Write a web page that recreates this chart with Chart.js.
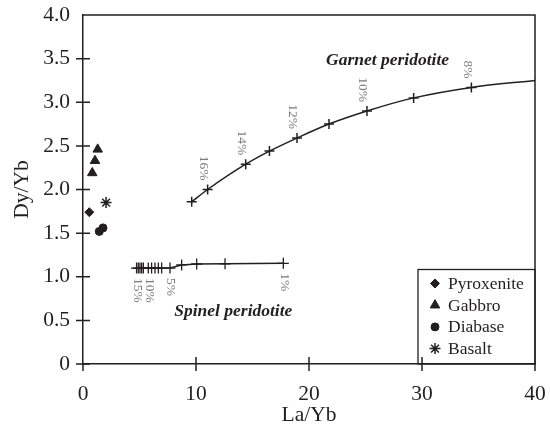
<!DOCTYPE html>
<html><head><meta charset="utf-8">
<script src="https://cdn.jsdelivr.net/npm/chart.js@4.4.1/dist/chart.umd.min.js"></script>
<style>html,body{margin:0;padding:0;background:#fff;overflow:hidden;}</style>
</head><body>
<canvas id="c" width="550" height="428"></canvas>
<script>
// ---- data ----
const xTickValues = [0, 10, 20, 30, 40];
const yTickValues = [0, 0.5, 1.0, 1.5, 2.0, 2.5, 3.0, 3.5, 4.0];
const pyroxeniteX = [0.56];
const pyroxeniteY = [1.74];
const gabbroX = [0.82, 1.06, 1.30];
const gabbroY = [2.19, 2.33, 2.46];
const diabaseX = [1.44, 1.77];
const diabaseY = [1.52, 1.56];
const basaltX = [2.04];
const basaltY = [1.85];
const garnetX = [9.62, 11.03, 14.4, 16.5, 18.94, 21.77, 25.13, 29.26, 34.37, 40];
const garnetY = [1.86, 2.00, 2.29, 2.44, 2.59, 2.75, 2.90, 3.05, 3.17, 3.25];
const garnetLabels = ['', '16%', '14%', '', '12%', '', '10%', '', '8%', ''];
const spinelX = [4.74, 4.89, 5.04, 5.19, 5.34, 5.78, 6.07, 6.37, 6.67, 6.96, 7.70, 8.73, 10.06, 12.57, 17.73];
const spinelY = [1.10, 1.10, 1.10, 1.10, 1.10, 1.10, 1.10, 1.10, 1.10, 1.10, 1.10, 1.135, 1.146, 1.148, 1.154];
const spinelLabels = ['15%', '', '', '', '', '10%', '', '', '', '', '5%', '', '', '', '1%'];
const garnetTitle = {text: 'Garnet peridotite', x: 26.95, y: 3.48};
const spinelTitle = {text: 'Spinel peridotite', x: 13.3, y: 0.60};

const INK = '#231f20';
const SERIF = "'Liberation Serif', 'Times New Roman', serif";
const pts = (xs, ys) => xs.map((x, i) => ({x: x, y: ys[i]}));

const datasets = [
  {label: 'Pyroxenite', data: pts(pyroxeniteX, pyroxeniteY), pointStyle: 'rectRot', pointRadius: 4.5, showLine: false, legend: true},
  {label: 'Gabbro', data: pts(gabbroX, gabbroY), pointStyle: 'triangle', pointRadius: 5.5, showLine: false, legend: true},
  {label: 'Diabase', data: pts(diabaseX, diabaseY), pointStyle: 'circle', pointRadius: 4, showLine: false, legend: true},
  {label: 'Basalt', data: pts(basaltX, basaltY), pointStyle: 'star', pointRadius: 5.5, pointBorderWidth: 1.5, showLine: false, legend: true},
  {label: 'Garnet peridotite', data: pts(garnetX, garnetY), pointStyle: 'cross', pointRadius: garnetX.map((v, i) => i === garnetX.length - 1 ? 0 : 5), pointBorderWidth: 1.5, showLine: true, borderWidth: 1.5, tension: 0.4, cubicInterpolationMode: 'monotone', pctLabels: garnetLabels, labelSide: 'above'},
  {label: 'Spinel peridotite', data: pts(spinelX, spinelY), pointStyle: 'cross', pointRadius: 5.5, pointBorderWidth: 1.3, showLine: true, borderWidth: 1.5, tension: 0, pctLabels: spinelLabels, labelSide: 'below'}
].map(d => Object.assign({
  type: 'line', borderColor: INK, backgroundColor: INK, pointBackgroundColor: INK, pointBorderColor: INK,
  pointBorderWidth: d.pointBorderWidth || 1, pointHoverRadius: 0, fill: false
}, d));

const decor = {
  id: 'decor',
  afterDraw(chart) {
    const ctx = chart.ctx, a = chart.chartArea, xs = chart.scales.x, ys = chart.scales.y;
    ctx.save();
    ctx.strokeStyle = INK; ctx.lineWidth = 1.5;
    // top & right frame
    ctx.beginPath();
    ctx.moveTo(a.left, a.top); ctx.lineTo(a.right, a.top); ctx.lineTo(a.right, a.bottom);
    ctx.stroke();
    // crossing ticks
    ctx.beginPath();
    yTickValues.forEach(v => { if (v >= 4) return; const p = ys.getPixelForValue(v); ctx.moveTo(a.left - 7, p); ctx.lineTo(a.left + 7, p); });
    xTickValues.forEach(v => { const p = xs.getPixelForValue(v); ctx.moveTo(p, a.bottom - (v === 0 || v === 40 ? 0 : 7)); ctx.lineTo(p, a.bottom + 7); });
    ctx.stroke();
    // percent labels
    ctx.fillStyle = '#7a7a7a';
    ctx.font = '13.5px ' + SERIF;
    ctx.textBaseline = 'middle';
    chart.data.datasets.forEach(ds => {
      if (!ds.pctLabels) return;
      ds.data.forEach((p, i) => {
        const t = ds.pctLabels[i]; if (!t) return;
        const px = xs.getPixelForValue(p.x), py = ys.getPixelForValue(p.y);
        ctx.save();
        if (ds.labelSide === 'above') { ctx.translate(px - 4, py - 9); ctx.textAlign = 'right'; }
        else { ctx.translate(px + 1, py + 10); ctx.textAlign = 'left'; }
        ctx.rotate(Math.PI / 2);
        ctx.fillText(t, 0, 0);
        ctx.restore();
      });
    });
    // curve titles
    ctx.fillStyle = INK;
    ctx.font = 'italic bold 17.5px ' + SERIF;
    ctx.textAlign = 'center'; ctx.textBaseline = 'middle';
    [garnetTitle, spinelTitle].forEach(t => ctx.fillText(t.text, xs.getPixelForValue(t.x), ys.getPixelForValue(t.y)));
    // legend box
    const lx = 418, ly = 269.5, lw = a.right - 418, lh = a.bottom - 269.5;
    ctx.lineWidth = 1.3;
    ctx.strokeRect(lx, ly, lw, lh);
    ctx.font = '17.5px ' + SERIF;
    ctx.textAlign = 'left';
    const items = chart.data.datasets.filter(d => d.legend);
    items.forEach((d, i) => {
      const cy = 283.5 + i * 21.7, cx = 435;
      const opts = {pointStyle: d.pointStyle, rotation: 0, radius: d.pointRadius, borderWidth: d.pointBorderWidth};
      ctx.fillStyle = INK; ctx.strokeStyle = INK; ctx.lineWidth = d.pointBorderWidth;
      Chart.helpers.drawPoint(ctx, opts, cx, cy);
      ctx.fillStyle = INK;
      ctx.fillText(d.label, 448, cy + 1);
    });
    ctx.restore();
  }
};

new Chart(document.getElementById('c'), {
  type: 'line',
  data: {datasets: datasets},
  options: {
    responsive: false,
    animation: false,
    events: [],
    layout: {padding: {top: 15, right: 15, left: 0, bottom: 0}},
    plugins: {legend: {display: false}, tooltip: {enabled: false}},
    scales: {
      x: {
        type: 'linear', min: 0, max: 40,
        afterFit: s => { s.height = 64; s.paddingLeft = 0; s.paddingRight = 0; },
        afterBuildTicks: s => { s.ticks = xTickValues.map(v => ({value: v})); },
        grid: {display: false},
        border: {display: true, color: INK, width: 1.5},
        ticks: {color: INK, padding: 9, font: {family: SERIF, size: 21.5}, callback: v => String(v)},
        title: {display: true, text: 'La/Yb', color: INK, font: {family: SERIF, size: 21.5, lineHeight: 1}, padding: {top: 0, bottom: 1.5}}
      },
      y: {
        type: 'linear', min: 0, max: 4,
        afterFit: s => { s.width = 83; s.paddingTop = 0; s.paddingBottom = 0; },
        afterBuildTicks: s => { s.ticks = yTickValues.map(v => ({value: v})); },
        grid: {display: false},
        border: {display: true, color: INK, width: 1.5},
        ticks: {color: INK, padding: 5, font: {family: SERIF, size: 21.5}, callback: v => v === 0 ? '0' : v.toFixed(1)},
        title: {display: true, text: 'Dy/Yb', color: INK, font: {family: SERIF, size: 21.5, lineHeight: 1}, padding: {top: 12, bottom: 0}}
      }
    }
  },
  plugins: [decor]
});
</script>
</body></html>
